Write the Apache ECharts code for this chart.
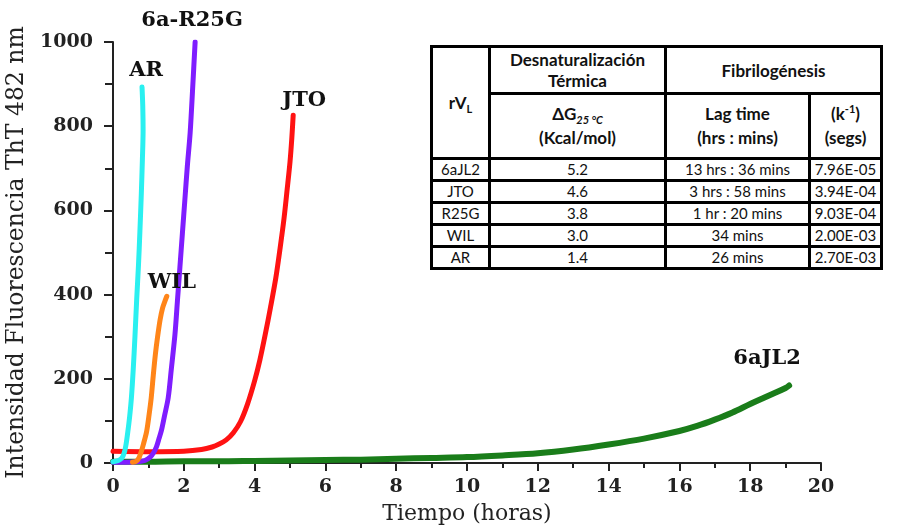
<!DOCTYPE html>
<html>
<head>
<meta charset="utf-8">
<script src="https://cdn.jsdelivr.net/npm/echarts@6/dist/echarts.min.js"></script>
<style>
  html, body { margin: 0; padding: 0; background: #fff; }
  #wrap { position: relative; width: 917px; height: 529px; }
  #main { width: 917px; height: 529px; }
  #tbl { position: absolute; left: 430px; top: 45px; border-collapse: collapse; table-layout: fixed;
         font-family: Lato, "Liberation Sans", sans-serif; font-size: 15px; color: #111; background: #fff; }
  #tbl td { border: 3px solid #000; text-align: center; padding: 0; vertical-align: middle; }
  #tbl .h1 td { font-weight: bold; font-size: 17px; line-height: 21px; height: 44px; }
  #tbl .h2 td { font-weight: bold; font-size: 17px; line-height: 24px; height: 62px; }
  #tbl .d td { height: 19px; line-height: 19px; }
  #tbl sub, #tbl sup { font-size: 11px; line-height: 0; }
</style>
</head>
<body>
<div id="wrap">
  <div id="main"></div>
  <table id="tbl"></table>
</div>
<script>
// ---- data ----
const xTicks = [0, 2, 4, 6, 8, 10, 12, 14, 16, 18, 20];
const yTicks = [0, 200, 400, 600, 800, 1000];

const seriesNames = ['6aJL2', 'JTO', 'R25G', 'WIL', 'AR'];
const labelNames = ['6aJL2', 'JTO', '6a-R25G', 'WIL', 'AR'];

// [hours, intensity]
const dataJL2 = [[0,3],[1,3],[2,4],[3,4],[4,5],[5,6],[6,7],[7,8],[8,10],[9,12],[10,14],[11,18],[12,23],[13,32],[14,44],[15,58],[16,76],[16.5,88],[17,103],[17.5,120],[18,140],[18.5,159],[19,178],[19.1,184]];
const dataJTO = [[0,28],[1,27],[2,28],[2.5,32],[2.8,38],[3.0,45],[3.2,55],[3.4,72],[3.6,98],[3.8,140],[4.0,195],[4.15,245],[4.3,305],[4.45,370],[4.6,440],[4.72,510],[4.83,580],[4.92,650],[5.0,715],[5.05,770],[5.09,826]];
const dataR25G = [[0,2],[0.4,2],[0.7,3],[0.9,6],[1.05,14],[1.15,25],[1.23,39],[1.3,58],[1.37,78],[1.45,110],[1.56,155],[1.65,225],[1.75,305],[1.82,385],[1.89,465],[1.96,545],[2.03,625],[2.1,705],[2.18,785],[2.25,890],[2.32,1000]];
const dataWIL = [[0.55,2],[0.65,4],[0.72,10],[0.79,25],[0.86,45],[0.95,75],[1.02,115],[1.08,155],[1.14,210],[1.2,260],[1.26,300],[1.33,340],[1.4,368],[1.47,385],[1.52,396]];
const dataAR = [[0,3],[0.15,6],[0.25,12],[0.32,25],[0.37,45],[0.42,75],[0.47,110],[0.52,155],[0.57,220],[0.62,300],[0.67,390],[0.72,470],[0.76,550],[0.8,640],[0.83,720],[0.85,790],[0.84,850],[0.82,893]];

const seriesColors = ['#1a7d1a', '#ff1212', '#7f1dff', '#ff8519', '#2af0f0'];
const lineWidths = [6, 5, 5, 5, 5];
const labelOffsets = [[-22,-27],[11,-15],[-3,-21],[5,-14],[4,-17]];

// table
const tblNames = ['6aJL2', 'JTO', 'R25G', 'WIL', 'AR'];
const tblDG = ['5.2', '4.6', '3.8', '3.0', '1.4'];
const tblLag = ['13 hrs : 36 mins', '3 hrs : 58 mins', '1 hr : 20 mins', '34 mins', '26 mins'];
const tblK = ['7.96E-05', '3.94E-04', '9.03E-04', '2.00E-03', '2.70E-03'];

// ---- table ----
(function buildTable() {
  const t = document.getElementById('tbl');
  let html = '<colgroup><col style="width:58px"><col style="width:176px"><col style="width:144px"><col style="width:72px"></colgroup>';
  html += '<tr class="h1"><td rowspan="2">rV<sub>L</sub></td><td>Desnaturalización<br>Térmica</td><td colspan="2">Fibrilogénesis</td></tr>';
  html += '<tr class="h2"><td>&Delta;G<sub><i>25 °C</i></sub><br>(Kcal/mol)</td><td>Lag time<br>(hrs : mins)</td><td>(k<sup>-1</sup>)<br>(segs)</td></tr>';
  for (let i = 0; i < tblNames.length; i++) {
    html += '<tr class="d"><td>' + tblNames[i] + '</td><td>' + tblDG[i] + '</td><td>' + tblLag[i] + '</td><td>' + tblK[i] + '</td></tr>';
  }
  t.innerHTML = html;
})();

// ---- chart ----
const allData = [dataJL2, dataJTO, dataR25G, dataWIL, dataAR];
const chart = echarts.init(document.getElementById('main'), null, { renderer: 'canvas' });

const series = allData.map((d, i) => ({
  name: seriesNames[i],
  type: 'line',
  data: d,
  showSymbol: false,
  smooth: 0.3,
  lineStyle: { color: seriesColors[i], width: lineWidths[i], cap: 'round', join: 'round' },
  itemStyle: { color: seriesColors[i] },
  z: 2 + i,
  animation: false,
  markPoint: {
    symbol: 'circle',
    symbolSize: 1,
    itemStyle: { color: 'rgba(0,0,0,0)' },
    label: {
      show: true,
      position: 'inside',
      offset: labelOffsets[i],
      formatter: labelNames[i],
      fontFamily: 'DejaVu Serif',
      fontWeight: 'bold',
      fontSize: 21,
      color: '#111'
    },
    data: [{ coord: d[d.length - 1] }]
  }
}));

const axisFont = { fontFamily: 'DejaVu Serif', fontWeight: 'bold', fontSize: 19, color: '#222' };

chart.setOption({
  backgroundColor: '#fff',
  animation: false,
  grid: { left: 113, right: 96, top: 42, bottom: 66, containLabel: false, outerBoundsMode: 'none' },
  xAxis: {
    type: 'value', min: xTicks[0], max: xTicks[xTicks.length - 1], interval: 2,
    name: 'Tiempo (horas)', nameLocation: 'middle', nameGap: 40,
    nameTextStyle: { fontFamily: 'DejaVu Serif', fontSize: 22, color: '#222' },
    axisLine: { show: true, onZero: false, lineStyle: { color: '#222', width: 2 } },
    axisTick: { show: true, inside: false, length: 8, lineStyle: { color: '#222', width: 2 } },
    minorTick: { show: true, splitNumber: 2, length: 5, lineStyle: { color: '#222', width: 2 } },
    axisLabel: Object.assign({ margin: 15, formatter: v => String(v) }, axisFont),
    splitLine: { show: false }
  },
  yAxis: {
    type: 'value', min: yTicks[0], max: yTicks[yTicks.length - 1], interval: 200,
    name: 'Intensidad Fluorescencia ThT 482 nm', nameLocation: 'middle', nameGap: 79,
    nameTextStyle: { fontFamily: 'DejaVu Serif', fontSize: 23.5, color: '#222' },
    axisLine: { show: true, onZero: false, lineStyle: { color: '#222', width: 2 } },
    axisTick: { show: true, inside: false, length: 9, lineStyle: { color: '#222', width: 2 } },
    minorTick: { show: true, splitNumber: 2, length: 8, lineStyle: { color: '#222', width: 2 } },
    axisLabel: Object.assign({ margin: 20, formatter: v => String(v) }, axisFont),
    splitLine: { show: false }
  },
  series: series
});
</script>
</body>
</html>
